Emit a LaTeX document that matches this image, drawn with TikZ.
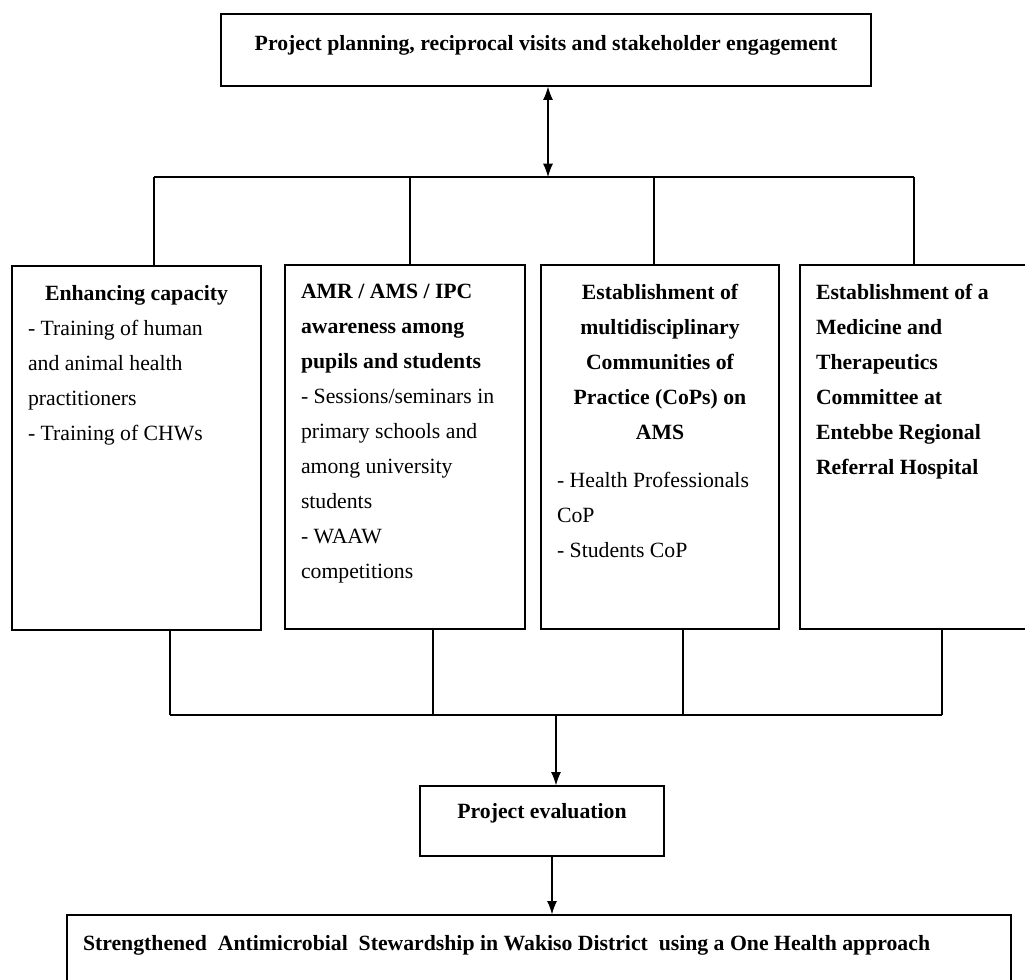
\documentclass[tikz,border=0pt]{standalone}
\usepackage{fontspec}
\setmainfont{Liberation Serif}
\usepackage{tikz}
\usetikzlibrary{arrows.meta}
\tikzstyle{box} = [draw, rectangle, line width=1pt, inner xsep=12pt, inner ysep=14.5pt]
\tikzstyle{link} = [line width=0.8pt]
\tikzstyle{arrow} = [line width=0.8pt,-{Latex[length=10pt,width=7.5pt]}]
\tikzstyle{twoway} = [line width=0.8pt,{Latex[length=10pt,width=7.5pt]}-{Latex[length=10pt,width=7.5pt]}]
\newcommand{\boxtext}[3]{\parbox[c][#2][t]{#1}{#3}}

\begin{document}
\begin{tikzpicture}[x=0.75pt, y=-0.75pt, font=\fontsize{16.3}{26.25}\selectfont]
\path[use as bounding box] (0,0) rectangle (1025,980);
\clip (0,0) rectangle (1025,980);

% top and bottom boxes
\node[box, inner ysep=16pt] (plan) at (546,50) {\boxtext{463.5pt}{22pt}{\centering\bfseries Project planning, reciprocal visits and stakeholder engagement}};
\node[box, inner ysep=13pt] (eval) at (542,821) {\boxtext{159pt}{26.5pt}{\centering\bfseries Project evaluation}};
\node[box, inner ysep=15.5pt] (outcome) at (539,960) {\boxtext{684pt}{36.5pt}{\bfseries Strengthened\ \ Antimicrobial\ \ Stewardship in Wakiso District\ \ using a One Health approach}};

% the four activities
\node[box] (capacity) at (136.5,448) {\boxtext{162.75pt}{244pt}{{\centering\bfseries Enhancing capacity\par}\raggedright
  - Training of human\\ and animal health\\ practitioners\\ - Training of CHWs}};
\node[box] (awareness) at (405,447) {\boxtext{156pt}{244pt}{{\raggedright\bfseries AMR / AMS / IPC\\ awareness among\\ pupils and students\par}\raggedright
  - Sessions/seminars in\\ primary schools and\\ among university\\ students\\ - WAAW\\ competitions}};
\node[box] (cops) at (660,447) {\boxtext{154.5pt}{244pt}{{\centering\bfseries Establishment of\\ multidisciplinary\\ Communities of\\ Practice (CoPs) on\\ AMS\par}\vspace{9.75pt}\raggedright
  - Health Professionals\\ CoP\\ - Students CoP}};
\node[box] (mtc) at (920,447) {\boxtext{156pt}{244pt}{\raggedright\bfseries Establishment of a\\ Medicine and\\ Therapeutics\\ Committee at\\ Entebbe Regional\\ Referral Hospital}};

% upper branching
\coordinate (hub) at (548,177);
\draw[twoway] (plan.south -| hub) -- (hub);
\foreach \n/\x in {capacity/154, awareness/410, cops/654, mtc/914}{
  \coordinate (up\n) at (\x,177);
  \draw[link] (up\n) -- (up\n |- \n.north);
}
\draw[link] (upcapacity) -- (upmtc);

% lower branching
\foreach \n/\x in {capacity/170, awareness/433, cops/683, mtc/942}{
  \coordinate (down\n) at (\x,715);
  \draw[link] (\n.south -| down\n) -- (down\n);
}
\draw[link] (downcapacity) -- (downmtc);
\coordinate (join) at (556,715);
\draw[arrow] (join) -- (join |- eval.north);
\draw[arrow] ([xshift=7.5pt]eval.south) -- ([xshift=7.5pt]eval.south |- outcome.north);
\end{tikzpicture}
\end{document}
